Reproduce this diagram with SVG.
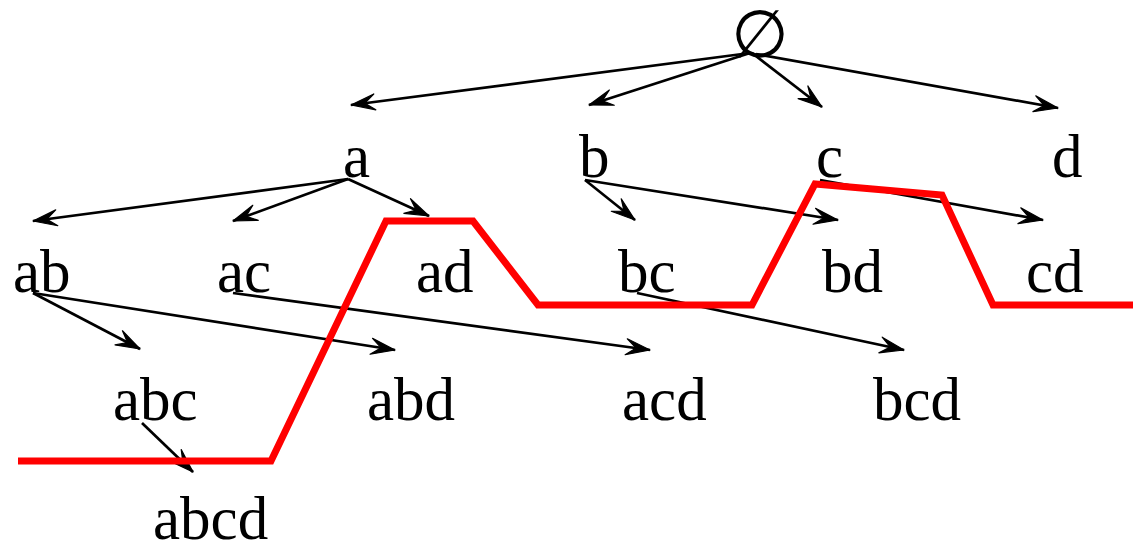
<svg xmlns="http://www.w3.org/2000/svg" width="1133" height="546" viewBox="0 0 1133 546">
<style>
.t{font-family:"Liberation Serif","Times New Roman",serif;font-size:61px;fill:#000}
.e{font-family:"DejaVu Sans",sans-serif;font-size:66px;fill:#000}
.c line{stroke:#000;stroke-width:2.7;fill:none;marker-end:url(#ah)}
.cut{stroke:#f00;stroke-width:7;fill:none;stroke-linejoin:miter}
</style>
<defs>
<marker id="ah" markerUnits="userSpaceOnUse" markerWidth="30" markerHeight="24" viewBox="-28 -12 30 24" refX="0" refY="0" orient="auto">
<path d="M0,0 L-24,-8 L-14,0 L-24,8 Z" fill="#000" stroke="#000" stroke-width="1.2" stroke-linejoin="round"/>
</marker>
</defs>
<rect width="1133" height="546" fill="#fff"/>
<g id="empty"><text class="e" x="760" y="57" text-anchor="middle">∅</text></g>
<g id="a"><text class="t" x="343" y="177">a</text></g>
<g id="b"><text class="t" x="579" y="177">b</text></g>
<g id="c"><text class="t" x="816" y="177">c</text></g>
<g id="d"><text class="t" x="1052" y="177">d</text></g>
<g id="ab"><text class="t" x="13" y="292">ab</text></g>
<g id="ac"><text class="t" x="217" y="292">ac</text></g>
<g id="ad"><text class="t" x="416" y="292">ad</text></g>
<g id="bc"><text class="t" x="618" y="292">bc</text></g>
<g id="bd"><text class="t" x="822" y="292">bd</text></g>
<g id="cd"><text class="t" x="1026" y="292">cd</text></g>
<g id="abc"><text class="t" x="113" y="420">abc</text></g>
<g id="abd"><text class="t" x="367" y="420">abd</text></g>
<g id="acd"><text class="t" x="622" y="420">acd</text></g>
<g id="bcd"><text class="t" x="873" y="420">bcd</text></g>
<g id="abcd"><text class="t" x="153" y="539">abcd</text></g>
<g id="connectors" class="c">
<line x1="750" y1="53" x2="351" y2="105"/>
<line x1="750" y1="53" x2="589" y2="105"/>
<line x1="752" y1="53" x2="822" y2="107"/>
<line x1="756" y1="54" x2="1058" y2="108"/>
<line x1="348" y1="179" x2="33" y2="221"/>
<line x1="348" y1="179" x2="233" y2="221"/>
<line x1="348" y1="179" x2="429" y2="216"/>
<line x1="585" y1="180" x2="635" y2="220"/>
<line x1="585" y1="180" x2="838" y2="220"/>
<line x1="820" y1="180" x2="1043" y2="220"/>
<line x1="33" y1="293" x2="140" y2="349"/>
<line x1="33" y1="293" x2="395" y2="350"/>
<line x1="233" y1="293" x2="650" y2="350"/>
<line x1="637" y1="293" x2="904" y2="350"/>
<line x1="142" y1="423" x2="193" y2="472"/>
</g>
<g id="cutline">
<polyline class="cut" points="18,461 271,461 386,221 473,221 538,305 752,305 815,184 942,195 993,305 1133,305"/>
</g>
</svg>
